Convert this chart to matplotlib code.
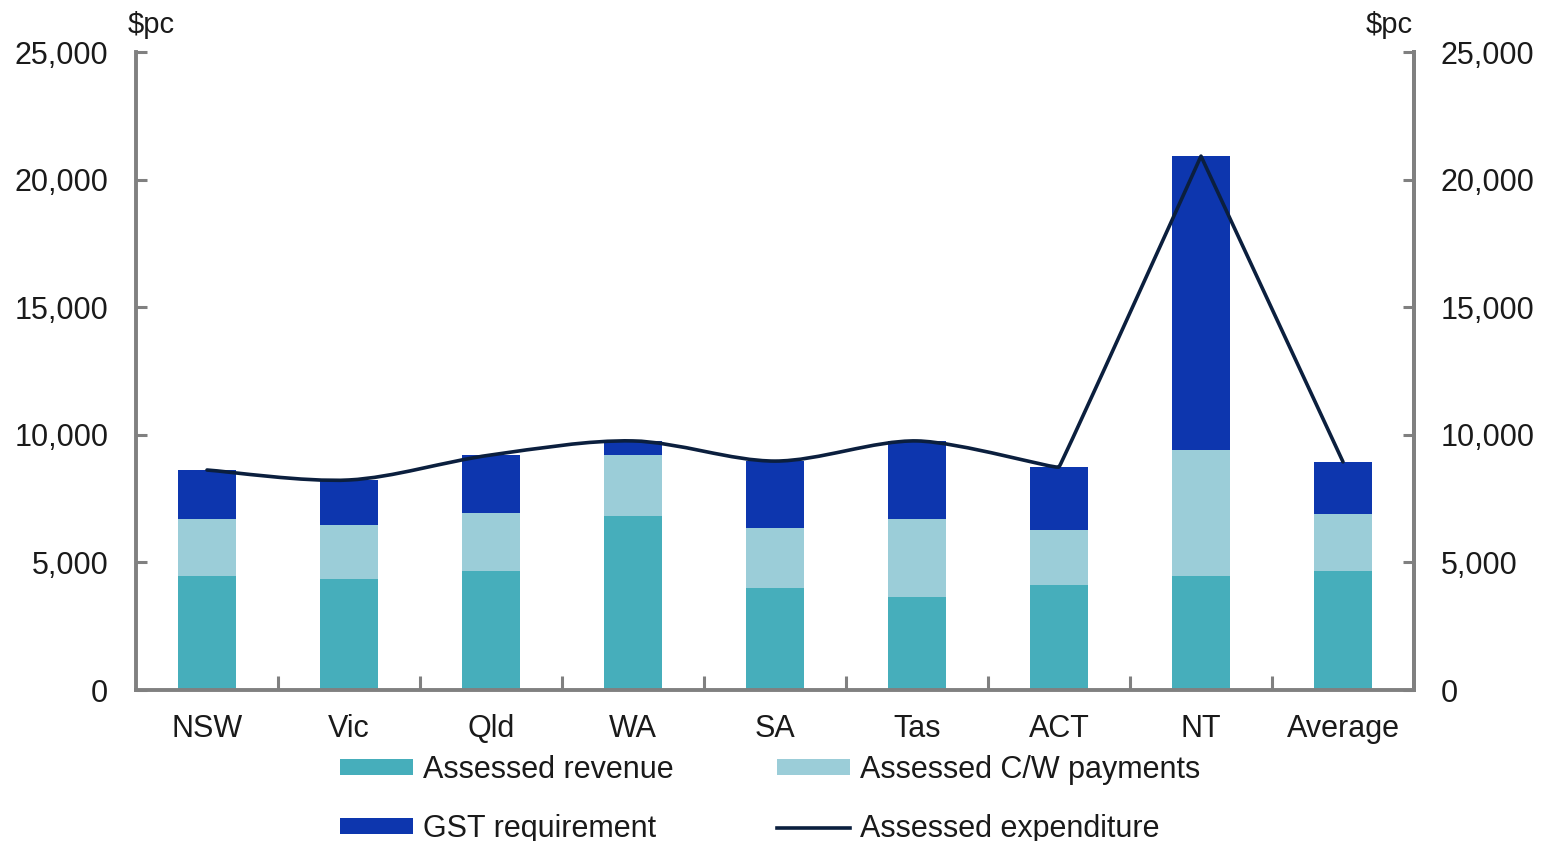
import matplotlib
matplotlib.use("Agg")
import matplotlib.pyplot as plt
from matplotlib.path import Path
from matplotlib.patches import PathPatch, Patch
from matplotlib.lines import Line2D
from matplotlib.ticker import FuncFormatter, FixedLocator
import numpy as np

plt.rcParams['font.family'] = ['Liberation Sans', 'DejaVu Sans']

categories = ["NSW", "Vic", "Qld", "WA", "SA", "Tas", "ACT", "NT", "Average"]
assessed_revenue = [4470, 4350, 4660, 6820, 4000, 3650, 4110, 4470, 4660]
assessed_cw = [2230, 2120, 2280, 2390, 2350, 3050, 2160, 4930, 2240]
gst_requirement = [1920, 1760, 2270, 550, 2620, 3060, 2470, 11520, 2040]
assessed_expenditure = [8620, 8230, 9210, 9760, 8970, 9760, 8740, 20920, 8940]

c_rev = "#46AEBB"
c_cw = "#9BCDD8"
c_gst = "#0D36AE"
c_line = "#0B1F3E"
c_axis = "#808080"
c_text = "#1a1a1a"
fs = 22

fig = plt.figure(figsize=(15.54, 8.41), dpi=100)
ax = fig.add_axes([136/1554, 1-690/841, (1414-136)/1554, (690-52)/841])

x = np.arange(len(categories))
w = 0.41
rev = np.array(assessed_revenue)
cw = np.array(assessed_cw)
gst = np.array(gst_requirement)
ax.bar(x, rev, w, color=c_rev, zorder=2)
ax.bar(x, cw, w, bottom=rev, color=c_cw, zorder=2)
ax.bar(x, gst, w, bottom=rev + cw, color=c_gst, zorder=2)

ax.set_xlim(-0.5, len(categories) - 0.5)
ax.set_ylim(0, 25000)

# smoothed line (Bezier through data points, softened at sharp turns)
y = np.array(assessed_expenditure, dtype=float)
pts = np.column_stack([x.astype(float), y])
sx = 142.0
sy = 127.6 / 5000.0
scale = np.array([sx, sy])
n = len(pts)

def tangent(i):
    p0 = pts[i - 1] if i > 0 else pts[i]
    p2 = pts[i + 1] if i < n - 1 else pts[i]
    T = (p2 - p0) / 6.0
    if 0 < i < n - 1:
        a = (pts[i] - pts[i - 1]) * scale
        b = (pts[i + 1] - pts[i]) * scale
        c = np.dot(a, b) / (np.linalg.norm(a) * np.linalg.norm(b))
        f = max(0.0, c) ** 2
    else:
        f = 1.0
    return T * f

verts = [tuple(pts[0])]
codes = [Path.MOVETO]
for i in range(n - 1):
    c1 = pts[i] + tangent(i)
    c2 = pts[i + 1] - tangent(i + 1)
    verts += [tuple(c1), tuple(c2), tuple(pts[i + 1])]
    codes += [Path.CURVE4] * 3
ax.add_patch(PathPatch(Path(verts, codes), facecolor='none', edgecolor=c_line, lw=2.6,
                       zorder=3, capstyle='round', joinstyle='round'))

yt = [0, 5000, 10000, 15000, 20000, 25000]
fmt = FuncFormatter(lambda v, p: f"{int(v):,}")

ax.spines['top'].set_visible(False)
for s in ['left', 'right', 'bottom']:
    ax.spines[s].set_color(c_axis)
    ax.spines[s].set_linewidth(2.8)

ax.set_yticks(yt)
ax.yaxis.set_major_formatter(fmt)
ax.tick_params(axis='y', direction='in', length=8, width=2.2, color=c_axis, labelsize=fs,
               pad=20, labelcolor=c_text)

ax.set_xticks(x)
ax.set_xticklabels(categories)
ax.tick_params(axis='x', which='major', length=0, labelsize=fs, pad=17, labelcolor=c_text)
ax.xaxis.set_minor_locator(FixedLocator(np.arange(0.5, len(categories) - 1, 1.0)))
ax.tick_params(axis='x', which='minor', direction='in', length=10, width=2.2, color=c_axis)

ax2 = ax.twinx()
ax2.set_ylim(0, 25000)
ax2.set_yticks(yt)
ax2.yaxis.set_major_formatter(fmt)
ax2.tick_params(axis='y', direction='in', length=8, width=2.2, color=c_axis, labelsize=fs,
                pad=19, labelcolor=c_text)
for s in ['top', 'left', 'bottom']:
    ax2.spines[s].set_visible(False)
ax2.spines['right'].set_color(c_axis)
ax2.spines['right'].set_linewidth(2.8)

fig.text(128/1554, 1-25/841, "$pc", fontsize=21, ha='left', va='center', color=c_text)
fig.text(1413/1554, 1-25/841, "$pc", fontsize=21, ha='right', va='center', color=c_text)

handles = [
    Patch(facecolor=c_rev, edgecolor='none'),
    Patch(facecolor=c_gst, edgecolor='none'),
    Patch(facecolor=c_cw, edgecolor='none'),
    Line2D([], [], color=c_line, lw=2.6),
]
labels = ["Assessed revenue", "GST requirement", "Assessed C/W payments", "Assessed expenditure"]
fig.legend(handles, labels, ncol=2, loc='upper center', bbox_to_anchor=(770/1554, 1-755/841),
           frameon=False, fontsize=fs, handlelength=2.4, handleheight=0.42,
           handletextpad=0.3, columnspacing=3.4, labelspacing=0.95, borderaxespad=0, borderpad=0,
           labelcolor=c_text)

fig.savefig("out.png", dpi=100, facecolor='white')
